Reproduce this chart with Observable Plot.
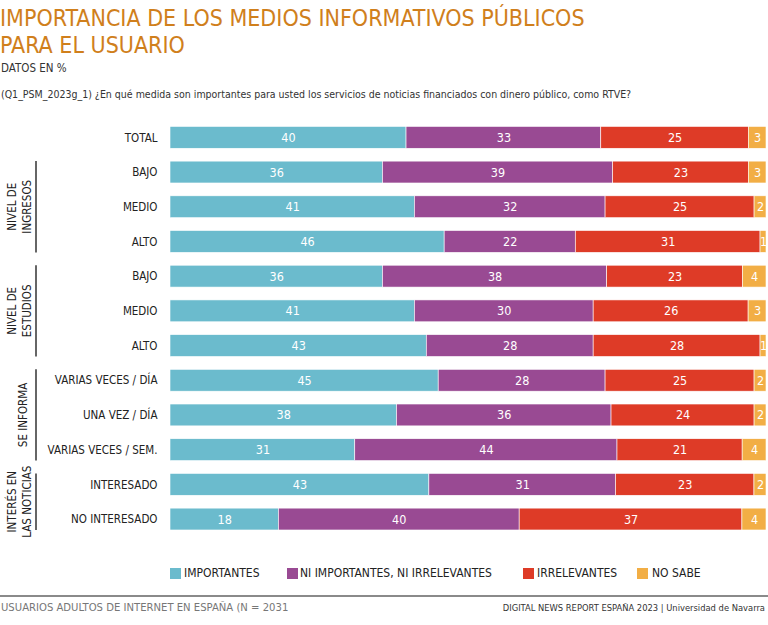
<!DOCTYPE html>
<html><head><meta charset="utf-8">
<script src="https://cdn.jsdelivr.net/npm/d3@7"></script>
<script src="https://cdn.jsdelivr.net/npm/@observablehq/plot@0.6"></script>
<style>
html,body{margin:0;padding:0;background:#fff;}
body{width:768px;height:625px;position:relative;overflow:hidden;font-family:"DejaVu Sans Condensed","Liberation Sans Narrow",sans-serif;}
.abs{position:absolute;white-space:nowrap;}
#title{left:0px;top:5px;color:#D07F1C;font-size:23px;line-height:27px;}
#sub{left:1px;top:61px;font-size:11.5px;color:#333;}
#q{left:1px;top:88px;font-size:10.5px;color:#333;}
#chart{left:0;top:110px;}
#legend{left:0;top:566px;font-size:12px;color:#222;width:768px;height:16px;}
#legend span.sw{position:absolute;top:2px;width:11px;height:11px;}
#legend span.tx{position:absolute;top:0;}
#rule{left:0;top:595px;width:768px;height:0;border-top:2px solid #8a8a8a;}
#fl{left:1px;top:601px;font-size:11.2px;color:#777;}
#fr{right:3px;top:602px;font-size:9.3px;color:#333;}
</style></head>
<body>
<div class="abs" id="title">IMPORTANCIA DE LOS MEDIOS INFORMATIVOS PÚBLICOS<br>PARA EL USUARIO</div>
<div class="abs" id="sub">DATOS EN %</div>
<div class="abs" id="q">(Q1_PSM_2023g_1) ¿En qué medida son importantes para usted los servicios de noticias financiados con dinero público, como RTVE?</div>
<div class="abs" id="chart"></div>
<div class="abs" id="legend"></div>
<div class="abs" id="rule"></div>
<div class="abs" id="fl">USUARIOS ADULTOS DE INTERNET EN ESPAÑA (N = 2031</div>
<div class="abs" id="fr">DIGITAL NEWS REPORT ESPAÑA 2023 | Universidad de Navarra</div>
<script>
const categoryIds = ["total","ing_bajo","ing_medio","ing_alto","est_bajo","est_medio","est_alto","inf_varias_dia","inf_una_dia","inf_varias_sem","interesado","no_interesado"];
const categoryLabels = ["TOTAL","BAJO","MEDIO","ALTO","BAJO","MEDIO","ALTO","VARIAS VECES / DÍA","UNA VEZ / DÍA","VARIAS VECES / SEM.","INTERESADO","NO INTERESADO"];
const seriesNames = ["IMPORTANTES","NI IMPORTANTES, NI IRRELEVANTES","IRRELEVANTES","NO SABE"];
const seriesColors = ["#6BBBCD","#994A93","#DE3B27","#F2AE45"];
const importantes = [40,36,41,46,36,41,43,45,38,31,43,18];
const niImportantes = [33,39,32,22,38,30,28,28,36,44,31,40];
const irrelevantes = [25,23,25,31,23,26,28,25,24,21,23,37];
const noSabe = [3,3,2,1,4,3,1,2,2,4,2,4];
const groupLabels = ["NIVEL DE\nINGRESOS","NIVEL DE\nESTUDIOS","SE INFORMA","INTERÉS EN\nLAS NOTICIAS"];
const groupStart = ["ing_bajo","est_bajo","inf_varias_dia","interesado"];
const groupEnd = ["ing_alto","est_alto","inf_varias_sem","no_interesado"];

const seriesValues = [importantes, niImportantes, irrelevantes, noSabe];
const data = [];
categoryIds.forEach((c, i) => seriesNames.forEach((s, j) => data.push({cat: c, series: s, value: seriesValues[j][i]})));
const labelOf = new Map(categoryIds.map((c, i) => [c, categoryLabels[i]]));
const groups = groupLabels.map((g, i) => ({label: g, start: groupStart[i], end: groupEnd[i]}));

const stackOpts = {x: "value", y: "cat", z: "series", offset: "normalize", order: seriesNames};

function groupMark(index, scales, values, dimensions) {
  const g = d3.create("svg:g");
  const bw = scales.y.bandwidth ? scales.y.bandwidth() : 0;
  for (const gr of groups) {
    const y1 = scales.y(gr.start), y2 = scales.y(gr.end) + bw;
    g.append("line").attr("x1", 36).attr("x2", 36).attr("y1", y1).attr("y2", y2)
      .attr("stroke", "#666").attr("stroke-width", 2);
    const lines = gr.label.split("\n");
    const cx = lines.length === 1 ? 23 : 19, cy = (y1 + y2) / 2;
    const t = g.append("text").attr("transform", `translate(${cx},${cy}) rotate(-90)`)
      .attr("text-anchor", "middle").attr("fill", "#222").attr("font-size", 11.5);
    lines.forEach((ln, k) => {
      t.append("tspan").attr("x", 0).attr("y", (k - (lines.length - 1) / 2) * 15).attr("dy", "0.35em").text(ln);
    });
  }
  return g.node();
}

const chart = Plot.plot({
  width: 768,
  height: 440,
  marginTop: 10,
  marginBottom: 13.6,
  marginLeft: 170,
  marginRight: 2,
  style: {fontFamily: '"DejaVu Sans Condensed","Liberation Sans Narrow",sans-serif', fontSize: "11.5px", color: "#222", background: "#fff"},
  x: {axis: null, domain: [0, 1]},
  y: {domain: categoryIds, round: false, paddingInner: 0.37, paddingOuter: 0.185, label: null, tickSize: 0, tickPadding: 13, tickFormat: d => labelOf.get(d)},
  color: {domain: seriesNames, range: seriesColors},
  marks: [
    Plot.barX(data, Plot.stackX({...stackOpts, fill: "series", stroke: "white", strokeWidth: 0.6})),
    Plot.text(data, Plot.stackX({...stackOpts, text: d => String(d.value), fill: "white", fontSize: 12.5})),
    groupMark
  ]
});
document.getElementById("chart").appendChild(chart);

const legendSwatchX = [170, 287, 523, 637];
const legendTextX = [184, 300, 537, 652];
const leg = document.getElementById("legend");
seriesNames.forEach((s, i) => {
  const sw = document.createElement("span");
  sw.className = "sw";
  sw.style.left = legendSwatchX[i] + "px";
  sw.style.background = seriesColors[i];
  leg.appendChild(sw);
  const tx = document.createElement("span");
  tx.className = "tx";
  tx.style.left = legendTextX[i] + "px";
  tx.textContent = s;
  leg.appendChild(tx);
});
</script>
</body></html>
